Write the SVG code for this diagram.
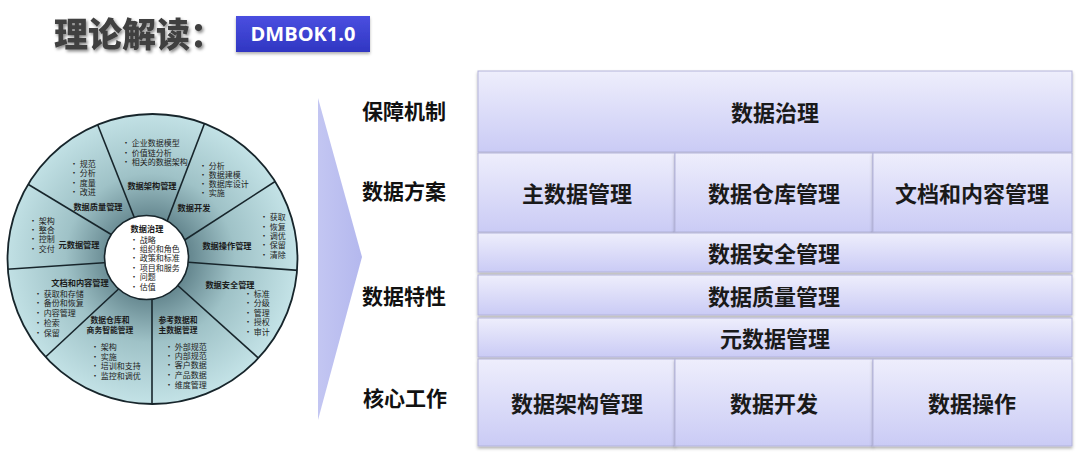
<svg xmlns="http://www.w3.org/2000/svg" width="1080" height="462" viewBox="0 0 1080 462">
<defs>
<style>
.cjk{font-family:"Noto Sans CJK SC","Noto Sans",sans-serif}
.ttl{font-size:34px;font-weight:900;fill:#404040}
.badge{font-size:20px;font-weight:700;fill:#ffffff;font-family:"Open Sans","Noto Sans",sans-serif}
.side{font-size:21px;font-weight:700;fill:#111111}
.box{stroke:#b3b3da;stroke-width:1}
.bt{font-size:22px;font-weight:700;fill:#1a1a1a;text-anchor:middle;dominant-baseline:central}
.wl{font-size:8.2px;font-weight:700;fill:#1c1c1c;text-anchor:middle}
.wl2{font-size:7.8px;font-weight:700;fill:#1c1c1c;text-anchor:middle}
.wi{font-size:8px;fill:#222222}
.div{stroke:#17252b;stroke-width:1.6;fill:none}
</style>
<linearGradient id="gBox" x1="0" y1="0" x2="0" y2="1">
<stop offset="0" stop-color="#eeeefc"/>
<stop offset="1" stop-color="#cacbf5"/>
</linearGradient>
<linearGradient id="gBadge" x1="0" y1="0" x2="0" y2="1">
<stop offset="0" stop-color="#4a4fe0"/>
<stop offset="1" stop-color="#3036c2"/>
</linearGradient>
<linearGradient id="gTri" x1="0" y1="0" x2="1" y2="0">
<stop offset="0" stop-color="#c3c6f2"/>
<stop offset="1" stop-color="#b4b8ee"/>
</linearGradient>
<radialGradient id="gWheel" cx="150" cy="258" r="146" gradientUnits="userSpaceOnUse">
<stop offset="0.28" stop-color="#678991"/>
<stop offset="0.58" stop-color="#9fc2c7"/>
<stop offset="1" stop-color="#c3e2e6"/>
</radialGradient>
<clipPath id="cWheel"><circle cx="152.5" cy="259" r="145"/></clipPath>
<filter id="fSh" x="-10%" y="-20%" width="120%" height="150%">
<feDropShadow dx="0" dy="2" stdDeviation="1.5" flood-color="#000" flood-opacity="0.3"/>
</filter>
<filter id="fTitle" x="-10%" y="-20%" width="120%" height="150%">
<feDropShadow dx="1.5" dy="2" stdDeviation="1.5" flood-color="#000" flood-opacity="0.45"/>
</filter>
</defs>
<rect width="1080" height="462" fill="#ffffff"/>

<g id="title">
<text class="cjk ttl" x="54" y="47" filter="url(#fTitle)">理论解读：</text>
<rect x="236" y="16" width="134" height="36" fill="url(#gBadge)" filter="url(#fSh)"/>
<text class="badge" x="303" y="41" text-anchor="middle">DMBOK1.0</text>
</g>

<g id="wheel">
<circle cx="152.5" cy="259" r="145" fill="url(#gWheel)"/>
<g clip-path="url(#cWheel)">
<line class="div" x1="140" y1="232" x2="95" y2="118"/>
<line class="div" x1="163" y1="232" x2="207" y2="117"/>
<line class="div" x1="180" y1="243" x2="279" y2="179"/>
<line class="div" x1="185" y1="262" x2="307" y2="271"/>
<line class="div" x1="175" y1="283" x2="265" y2="364"/>
<line class="div" x1="152" y1="290" x2="152" y2="413"/>
<line class="div" x1="125" y1="283" x2="38" y2="364"/>
<line class="div" x1="115" y1="262" x2="-3" y2="270"/>
<line class="div" x1="122" y1="241" x2="21" y2="180"/>
</g>
<circle cx="152.5" cy="259" r="145" fill="none" stroke="#17252b" stroke-width="1.8"/>
<circle cx="146.5" cy="257.5" r="42" fill="#ffffff" stroke="#17252b" stroke-width="1.6"/>
</g>

<g id="seg-governance" class="cjk">
<text class="wl" x="147" y="232">数据治理</text>
<text class="wi" x="130" y="243">• 战略</text>
<text class="wi" x="130" y="252">• 组织和角色</text>
<text class="wi" x="130" y="261">• 政策和标准</text>
<text class="wi" x="130" y="271">• 项目和服务</text>
<text class="wi" x="130" y="280">• 问题</text>
<text class="wi" x="130" y="290">• 估值</text>
</g>
<g id="seg-architecture" class="cjk">
<text class="wi" x="122" y="146">• 企业数据模型</text>
<text class="wi" x="122" y="156">• 价值链分析</text>
<text class="wi" x="122" y="165">• 相关的数据架构</text>
<text class="wl" x="152" y="189">数据架构管理</text>
</g>
<g id="seg-development" class="cjk">
<text class="wi" x="199" y="169">• 分析</text>
<text class="wi" x="199" y="178">• 数据建模</text>
<text class="wi" x="199" y="187">• 数据库设计</text>
<text class="wi" x="199" y="196">• 实施</text>
<text class="wl" x="194" y="211">数据开发</text>
</g>
<g id="seg-operations" class="cjk">
<text class="wi" x="260" y="220">• 获取</text>
<text class="wi" x="260" y="230">• 恢复</text>
<text class="wi" x="260" y="239">• 调优</text>
<text class="wi" x="260" y="248">• 保留</text>
<text class="wi" x="260" y="258">• 清除</text>
<text class="wl" x="227" y="249">数据操作管理</text>
</g>
<g id="seg-security" class="cjk">
<text class="wl" x="230" y="288">数据安全管理</text>
<text class="wi" x="244" y="297">• 标准</text>
<text class="wi" x="244" y="306">• 分级</text>
<text class="wi" x="244" y="316">• 管理</text>
<text class="wi" x="244" y="325">• 授权</text>
<text class="wi" x="244" y="335">• 审计</text>
</g>
<g id="seg-reference" class="cjk">
<text class="wl2" x="178" y="323">参考数据和</text>
<text class="wl2" x="178" y="333">主数据管理</text>
<text class="wi" x="165" y="350">• 外部规范</text>
<text class="wi" x="165" y="359">• 内部规范</text>
<text class="wi" x="165" y="368">• 客户数据</text>
<text class="wi" x="165" y="378">• 产品数据</text>
<text class="wi" x="165" y="388">• 维度管理</text>
</g>
<g id="seg-warehouse" class="cjk">
<text class="wl2" x="110" y="323">数据仓库和</text>
<text class="wl2" x="110" y="333">商务智能管理</text>
<text class="wi" x="91" y="350">• 架构</text>
<text class="wi" x="91" y="360">• 实施</text>
<text class="wi" x="91" y="369">• 培训和支持</text>
<text class="wi" x="91" y="379">• 监控和调优</text>
</g>
<g id="seg-document" class="cjk">
<text class="wl" x="80" y="286">文档和内容管理</text>
<text class="wi" x="34" y="297">• 获取和存储</text>
<text class="wi" x="34" y="306">• 备份和恢复</text>
<text class="wi" x="34" y="316">• 内容管理</text>
<text class="wi" x="34" y="326">• 检索</text>
<text class="wi" x="34" y="336">• 保留</text>
</g>
<g id="seg-metadata" class="cjk">
<text class="wi" x="29" y="224">• 架构</text>
<text class="wi" x="29" y="233">• 整合</text>
<text class="wi" x="29" y="242">• 控制</text>
<text class="wi" x="29" y="252">• 交付</text>
<text class="wl" x="79" y="248">元数据管理</text>
</g>
<g id="seg-quality" class="cjk">
<text class="wi" x="70" y="167">• 规范</text>
<text class="wi" x="70" y="176">• 分析</text>
<text class="wi" x="70" y="186">• 度量</text>
<text class="wi" x="70" y="195">• 改进</text>
<text class="wl" x="98" y="210">数据质量管理</text>
</g>

<g id="connectors">
<polygon points="318,98 362,257 318,420" fill="url(#gTri)"/>
</g>

<g id="side-labels" class="cjk">
<text class="side" x="362" y="119">保障机制</text>
<text class="side" x="362" y="199">数据方案</text>
<text class="side" x="362" y="304">数据特性</text>
<text class="side" x="363" y="406">核心工作</text>
</g>

<g id="box-governance" class="cjk">
<rect class="box" x="478" y="71" width="594" height="81" fill="url(#gBox)" filter="url(#fSh)"/>
<text class="bt" x="775" y="111">数据治理</text>
</g>
<g id="box-master" class="cjk">
<rect class="box" x="478" y="153" width="197" height="79" fill="url(#gBox)" filter="url(#fSh)"/>
<text class="bt" x="577" y="192">主数据管理</text>
</g>
<g id="box-warehouse" class="cjk">
<rect class="box" x="675" y="153" width="198" height="79" fill="url(#gBox)" filter="url(#fSh)"/>
<text class="bt" x="774" y="192">数据仓库管理</text>
</g>
<g id="box-document" class="cjk">
<rect class="box" x="873" y="153" width="199" height="79" fill="url(#gBox)" filter="url(#fSh)"/>
<text class="bt" x="972" y="192">文档和内容管理</text>
</g>
<g id="box-security" class="cjk">
<rect class="box" x="478" y="233" width="594" height="39" fill="url(#gBox)" filter="url(#fSh)"/>
<text class="bt" x="774" y="252">数据安全管理</text>
</g>
<g id="box-quality" class="cjk">
<rect class="box" x="478" y="275" width="594" height="40" fill="url(#gBox)" filter="url(#fSh)"/>
<text class="bt" x="774" y="295">数据质量管理</text>
</g>
<g id="box-metadata" class="cjk">
<rect class="box" x="478" y="318" width="594" height="39" fill="url(#gBox)" filter="url(#fSh)"/>
<text class="bt" x="775" y="337">元数据管理</text>
</g>
<g id="box-architecture" class="cjk">
<rect class="box" x="478" y="359" width="197" height="87" fill="url(#gBox)" filter="url(#fSh)"/>
<text class="bt" x="577" y="402">数据架构管理</text>
</g>
<g id="box-development" class="cjk">
<rect class="box" x="675" y="359" width="198" height="87" fill="url(#gBox)" filter="url(#fSh)"/>
<text class="bt" x="774" y="402">数据开发</text>
</g>
<g id="box-operations" class="cjk">
<rect class="box" x="873" y="359" width="199" height="87" fill="url(#gBox)" filter="url(#fSh)"/>
<text class="bt" x="972" y="402">数据操作</text>
</g>
</svg>
